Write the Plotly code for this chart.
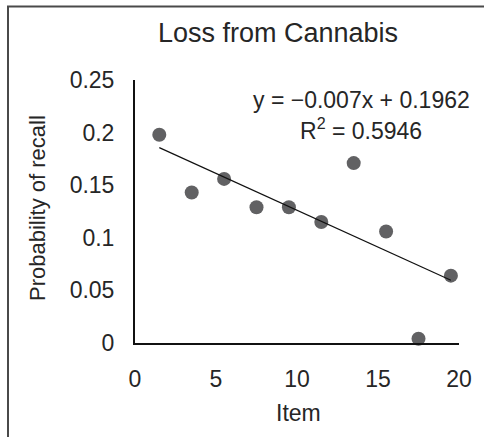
import numpy as np
import plotly.graph_objects as go

# data
items = [1.5, 3.5, 5.5, 7.5, 9.5, 11.5, 13.5, 15.5, 17.5, 19.5]
recall = [0.198, 0.143, 0.156, 0.129, 0.129, 0.115, 0.171, 0.106, 0.004, 0.064]
trend_slope = -0.007
trend_intercept = 0.1962
x_ticks = [0, 5, 10, 15, 20]
y_ticks = [0, 0.05, 0.1, 0.15, 0.2, 0.25]
y_tick_labels = ["0", "0.05", "0.1", "0.15", "0.2", "0.25"]

font = "Liberation Sans, Arial, sans-serif"
ink = "#262626"

W, H = 484, 437
L, R, T, B = 135, 25, 80, 94
pw, ph = W - L - R, H - T - B

def px_to_paper(x, y):
    return (x - L) / pw, (H - B - y) / ph

trend_x = np.array([min(items), max(items)])
trend_y = trend_slope * trend_x + trend_intercept

fig = go.Figure()
fig.add_trace(go.Scatter(
    x=items, y=recall, mode="markers",
    marker=dict(size=14, color="#616163"),
    cliponaxis=False, showlegend=False,
))
fig.add_trace(go.Scatter(
    x=trend_x, y=trend_y, mode="lines",
    line=dict(color="#111111", width=1.2),
    showlegend=False,
))

# outer frame (only left/top edges fall inside the picture)
x0, y0 = px_to_paper(8, 6.5)
x1, y1 = px_to_paper(W + 10, H + 10)
fig.add_shape(type="rect", xref="paper", yref="paper",
              x0=x0, y0=y1, x1=x1, y1=y0,
              line=dict(color="#4a4a4a", width=2))

def label(text, x, y, size, angle=0):
    px, py = px_to_paper(x, y)
    fig.add_annotation(xref="paper", yref="paper", x=px, y=py, text=text,
                       showarrow=False, textangle=angle,
                       xanchor="center", yanchor="middle",
                       font=dict(family=font, size=size, color=ink))

label("Loss from Cannabis", 278, 33, 27)
label("y = \u22120.007x + 0.1962", 361, 100, 23)
label("R<sup>2</sup> = 0.5946", 361, 129, 23)
label("Item", 298, 413, 23)
label("Probability of recall", 37, 208, 22, angle=-90)

fig.update_layout(
    width=W, height=H,
    margin=dict(l=L, r=R, t=T, b=B),
    paper_bgcolor="white", plot_bgcolor="white",
    font=dict(family=font, size=23, color=ink),
    xaxis=dict(range=[0, 20], tickvals=x_ticks, showgrid=False, zeroline=False,
               showline=True, linecolor="#111111", linewidth=2,
               ticks="outside", ticklen=14, tickcolor="rgba(0,0,0,0)",
               tickfont=dict(size=23)),
    yaxis=dict(range=[0, 0.25], tickvals=y_ticks, ticktext=y_tick_labels,
               showgrid=False, zeroline=False,
               showline=True, linecolor="#111111", linewidth=2,
               ticks="outside", ticklen=14, tickcolor="rgba(0,0,0,0)",
               tickfont=dict(size=23)),
)

fig.write_html("out.html", config={"displayModeBar": False},
               post_script="document.body.style.margin='0';")
